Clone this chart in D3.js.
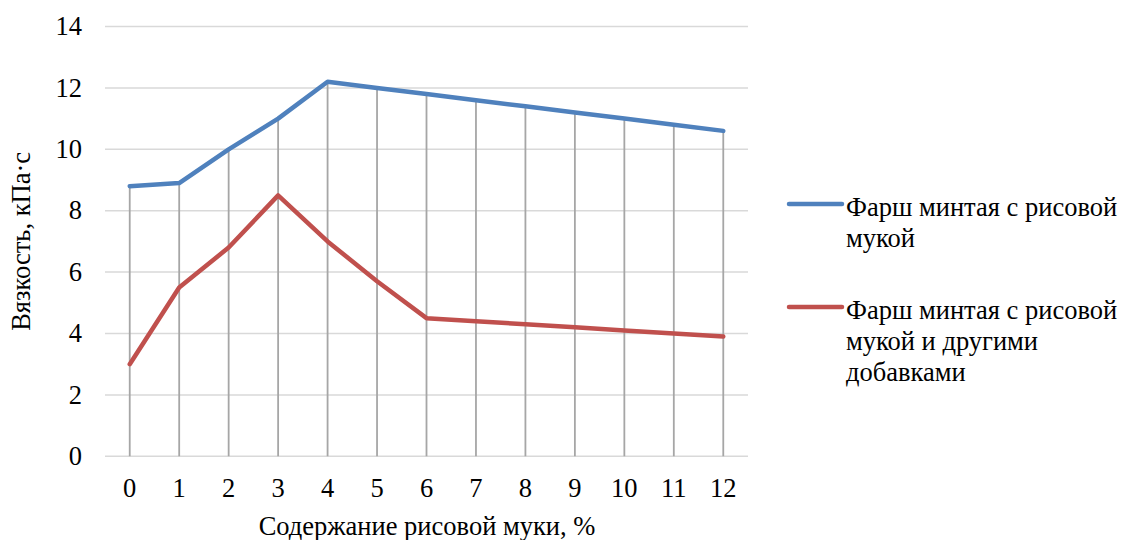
<!DOCTYPE html>
<html><head><meta charset="utf-8">
<script src="https://cdn.jsdelivr.net/npm/d3@7"></script>
<style>body{margin:0;background:#fff}svg{display:block}</style>
</head><body>
<script>
const categories = ["0","1","2","3","4","5","6","7","8","9","10","11","12"];
const seriesBlue = [8.8, 8.9, 10.0, 11.0, 12.2, 12.0, 11.8, 11.6, 11.4, 11.2, 11.0, 10.8, 10.6];
const seriesRed  = [3.0, 5.5, 6.8, 8.5, 7.0, 5.7, 4.5, 4.4, 4.3, 4.2, 4.1, 4.0, 3.9];
const yTicks = [0, 2, 4, 6, 8, 10, 12, 14];
const seriesNames = [["Фарш минтая с рисовой","мукой"],["Фарш минтая с рисовой","мукой и другими","добавками"]];
const colors = ["#4f81bd", "#c0504d"];

const W = 1121, H = 540;
const font = "Liberation Serif, Tinos, Times New Roman, DejaVu Serif, serif";
const fs = "26.5px";
const svg = d3.select("body").append("svg").attr("width", W).attr("height", H);
const pLeft = 105, pRight = 748, pTop = 26.5, pBottom = 456.3;
const x = d3.scaleBand().domain(categories).range([pLeft, pRight]);
const y = d3.scaleLinear().domain([0, 14]).range([pBottom, pTop]);
const cx = c => x(c) + x.bandwidth() / 2;

svg.append("g").selectAll("line").data(yTicks).join("line")
  .attr("x1", pLeft).attr("x2", pRight).attr("y1", d => y(d)).attr("y2", d => y(d))
  .attr("stroke", "#d9d9d9").attr("stroke-width", 1.5);

svg.append("g").selectAll("line").data(categories).join("line")
  .attr("x1", d => cx(d)).attr("x2", d => cx(d))
  .attr("y1", (d, i) => y(Math.max(seriesBlue[i], seriesRed[i]))).attr("y2", y(0))
  .attr("stroke", "#a6a6a6").attr("stroke-width", 1.8);

svg.append("g").selectAll("text").data(yTicks).join("text")
  .attr("x", 82).attr("y", d => y(d)).attr("dy", "0.33em").attr("text-anchor", "end")
  .style("font-family", font).style("font-size", fs).attr("fill", "#000").text(d => d);

svg.append("g").selectAll("text").data(categories).join("text")
  .attr("x", d => cx(d)).attr("y", 497).attr("text-anchor", "middle")
  .style("font-family", font).style("font-size", fs).attr("fill", "#000").text(d => d);

svg.append("text").attr("x", 427).attr("y", 535).attr("text-anchor", "middle")
  .style("font-family", font).style("font-size", fs).text("Содержание рисовой муки, %");
svg.append("text").attr("transform", `translate(30,${(pTop + pBottom) / 2}) rotate(-90)`)
  .attr("text-anchor", "middle").style("font-family", font).style("font-size", fs).text("Вязкость, кПа·с");

const line = d3.line().x((d, i) => cx(categories[i])).y(d => y(d));
[seriesBlue, seriesRed].forEach((s, k) => {
  svg.append("path").datum(s).attr("d", line).attr("fill", "none")
    .attr("stroke", colors[k]).attr("stroke-width", 4.5)
    .attr("stroke-linejoin", "round").attr("stroke-linecap", "round");
});

const legY = [204, 307];
seriesNames.forEach((lines, k) => {
  svg.append("line").attr("x1", 789).attr("x2", 842).attr("y1", legY[k]).attr("y2", legY[k])
    .attr("stroke", colors[k]).attr("stroke-width", 4.5).attr("stroke-linecap", "round");
  const t = svg.append("text").style("font-family", font).style("font-size", fs).attr("fill", "#000");
  lines.forEach((ln, j) => {
    t.append("tspan").attr("x", 846).attr("y", legY[k] + 12 + j * 31).text(ln);
  });
});
</script>
</body></html>
